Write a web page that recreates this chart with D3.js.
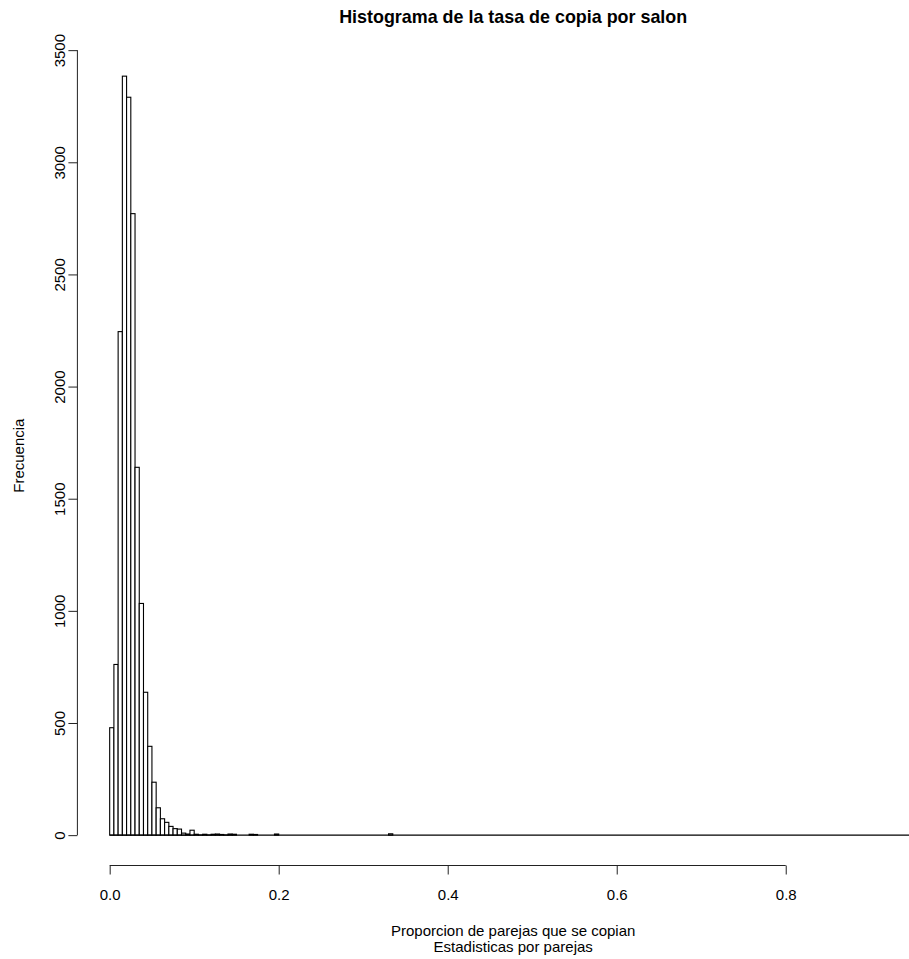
<!DOCTYPE html>
<html>
<head>
<meta charset="utf-8" />
<title>Histograma</title>
<script src="https://d3js.org/d3.v7.min.js"></script>
<style>
  body { margin: 0; background: #fff; }
  text { font-family: "Liberation Sans", Arial, sans-serif; fill: #000; }
</style>
</head>
<body>
<svg width="909" height="959" id="svg1"></svg>
<script>
// histogram bins: width 0.005 starting at 0, counts
var binWidth = 0.005;
var counts = [479, 761, 2245, 3384, 3290, 2771, 1640, 1033, 637, 396,
              236, 122, 73, 57, 39, 29, 27, 9, 5, 22,
              4, 1, 4, 1, 4, 5, 3, 1, 5, 4,
              0, 0, 0, 4, 3, 0, 0, 0, 0, 5,
              0, 0, 0, 0, 0, 0, 0, 0, 0, 0,
              0, 0, 0, 0, 0, 0, 0, 0, 0, 0,
              0, 0, 0, 0, 0, 0, 6];
var xMax = 0.955;            // end of last break (rest of bins are empty)
var xTicks = [0, 0.2, 0.4, 0.6, 0.8];
var yTicks = [0, 500, 1000, 1500, 2000, 2500, 3000, 3500];

var title = "Histograma de la tasa de copia por salon";
var xLabel = "Proporcion de parejas que se copian";
var subLabel = "Estadisticas por parejas";
var yLabel = "Frecuencia";

var svg = d3.select("#svg1");

// plot region like R: data range extended by 4% on each side
var plotL = 77.4, plotR = 949, plotT = 45.8, plotB = 865.5;
var yMax = d3.max(counts);
var x = d3.scaleLinear().domain([-0.04 * xMax, 1.04 * xMax]).range([plotL, plotR]);
var y = d3.scaleLinear().domain([-0.04 * yMax, 1.04 * yMax]).range([plotB, plotT]);

var bins = counts.map(function(c, i) {
  return { x0: i * binWidth, x1: (i + 1) * binWidth, n: c };
}).filter(function(b) { return b.n > 0; });

// bars
svg.append("g").selectAll("rect")
  .data(bins)
  .enter()
  .append("rect")
  .attr("x", function(d) { return x(d.x0); })
  .attr("width", function(d) { return x(d.x1) - x(d.x0); })
  .attr("y", function(d) { return y(d.n); })
  .attr("height", function(d) { return y(0) - y(d.n); })
  .attr("fill", "#fff")
  .attr("stroke", "#000")
  .attr("stroke-width", 1.1);

// empty bins draw as a line on zero
svg.append("line")
  .attr("x1", x(0)).attr("x2", x(xMax))
  .attr("y1", y(0)).attr("y2", y(0))
  .attr("stroke", "#000").attr("stroke-width", 1.1);

// x axis
var gx = svg.append("g")
  .attr("transform", "translate(0," + plotB + ")")
  .call(d3.axisBottom(x).tickValues(xTicks).tickFormat(d3.format(".1f"))
        .tickSize(9).tickSizeOuter(0).tickPadding(14.5));
gx.select(".domain").remove();
gx.append("line")
  .attr("x1", x(xTicks[0])).attr("x2", x(xTicks[xTicks.length - 1]))
  .attr("stroke", "#000");
gx.selectAll("line").attr("stroke", "#222");
gx.selectAll("text").style("font-size", "15px").attr("fill", "#111");

// y axis
var gy = svg.append("g")
  .attr("transform", "translate(" + plotL + ",0)")
  .call(d3.axisLeft(y).tickValues(yTicks).tickFormat(d3.format("d"))
        .tickSize(9).tickSizeOuter(0));
gy.select(".domain").remove();
gy.append("line")
  .attr("y1", y(yTicks[0])).attr("y2", y(yTicks[yTicks.length - 1]))
  .attr("stroke", "#000");
gy.selectAll("line").attr("stroke", "#222");
gy.selectAll("text")
  .attr("x", null).attr("dy", null)
  .attr("text-anchor", "middle")
  .attr("transform", "translate(-12,0) rotate(-90)")
  .style("font-size", "15px").attr("fill", "#111");

// titles
svg.append("text")
  .attr("x", (plotL + plotR) / 2).attr("y", 22.7)
  .attr("text-anchor", "middle")
  .style("font-size", "17.9px").style("font-weight", "bold")
  .text(title);

svg.append("text")
  .attr("x", (plotL + plotR) / 2).attr("y", 935.7)
  .attr("text-anchor", "middle")
  .style("font-size", "15px").attr("fill", "#111")
  .text(xLabel);

svg.append("text")
  .attr("x", (plotL + plotR) / 2).attr("y", 952.3)
  .attr("text-anchor", "middle")
  .style("font-size", "15px").attr("fill", "#111")
  .text(subLabel);

svg.append("text")
  .attr("transform", "translate(23.5," + (plotT + plotB) / 2 + ") rotate(-90)")
  .attr("text-anchor", "middle")
  .style("font-size", "15px").attr("fill", "#111")
  .text(yLabel);
</script>
</body>
</html>
